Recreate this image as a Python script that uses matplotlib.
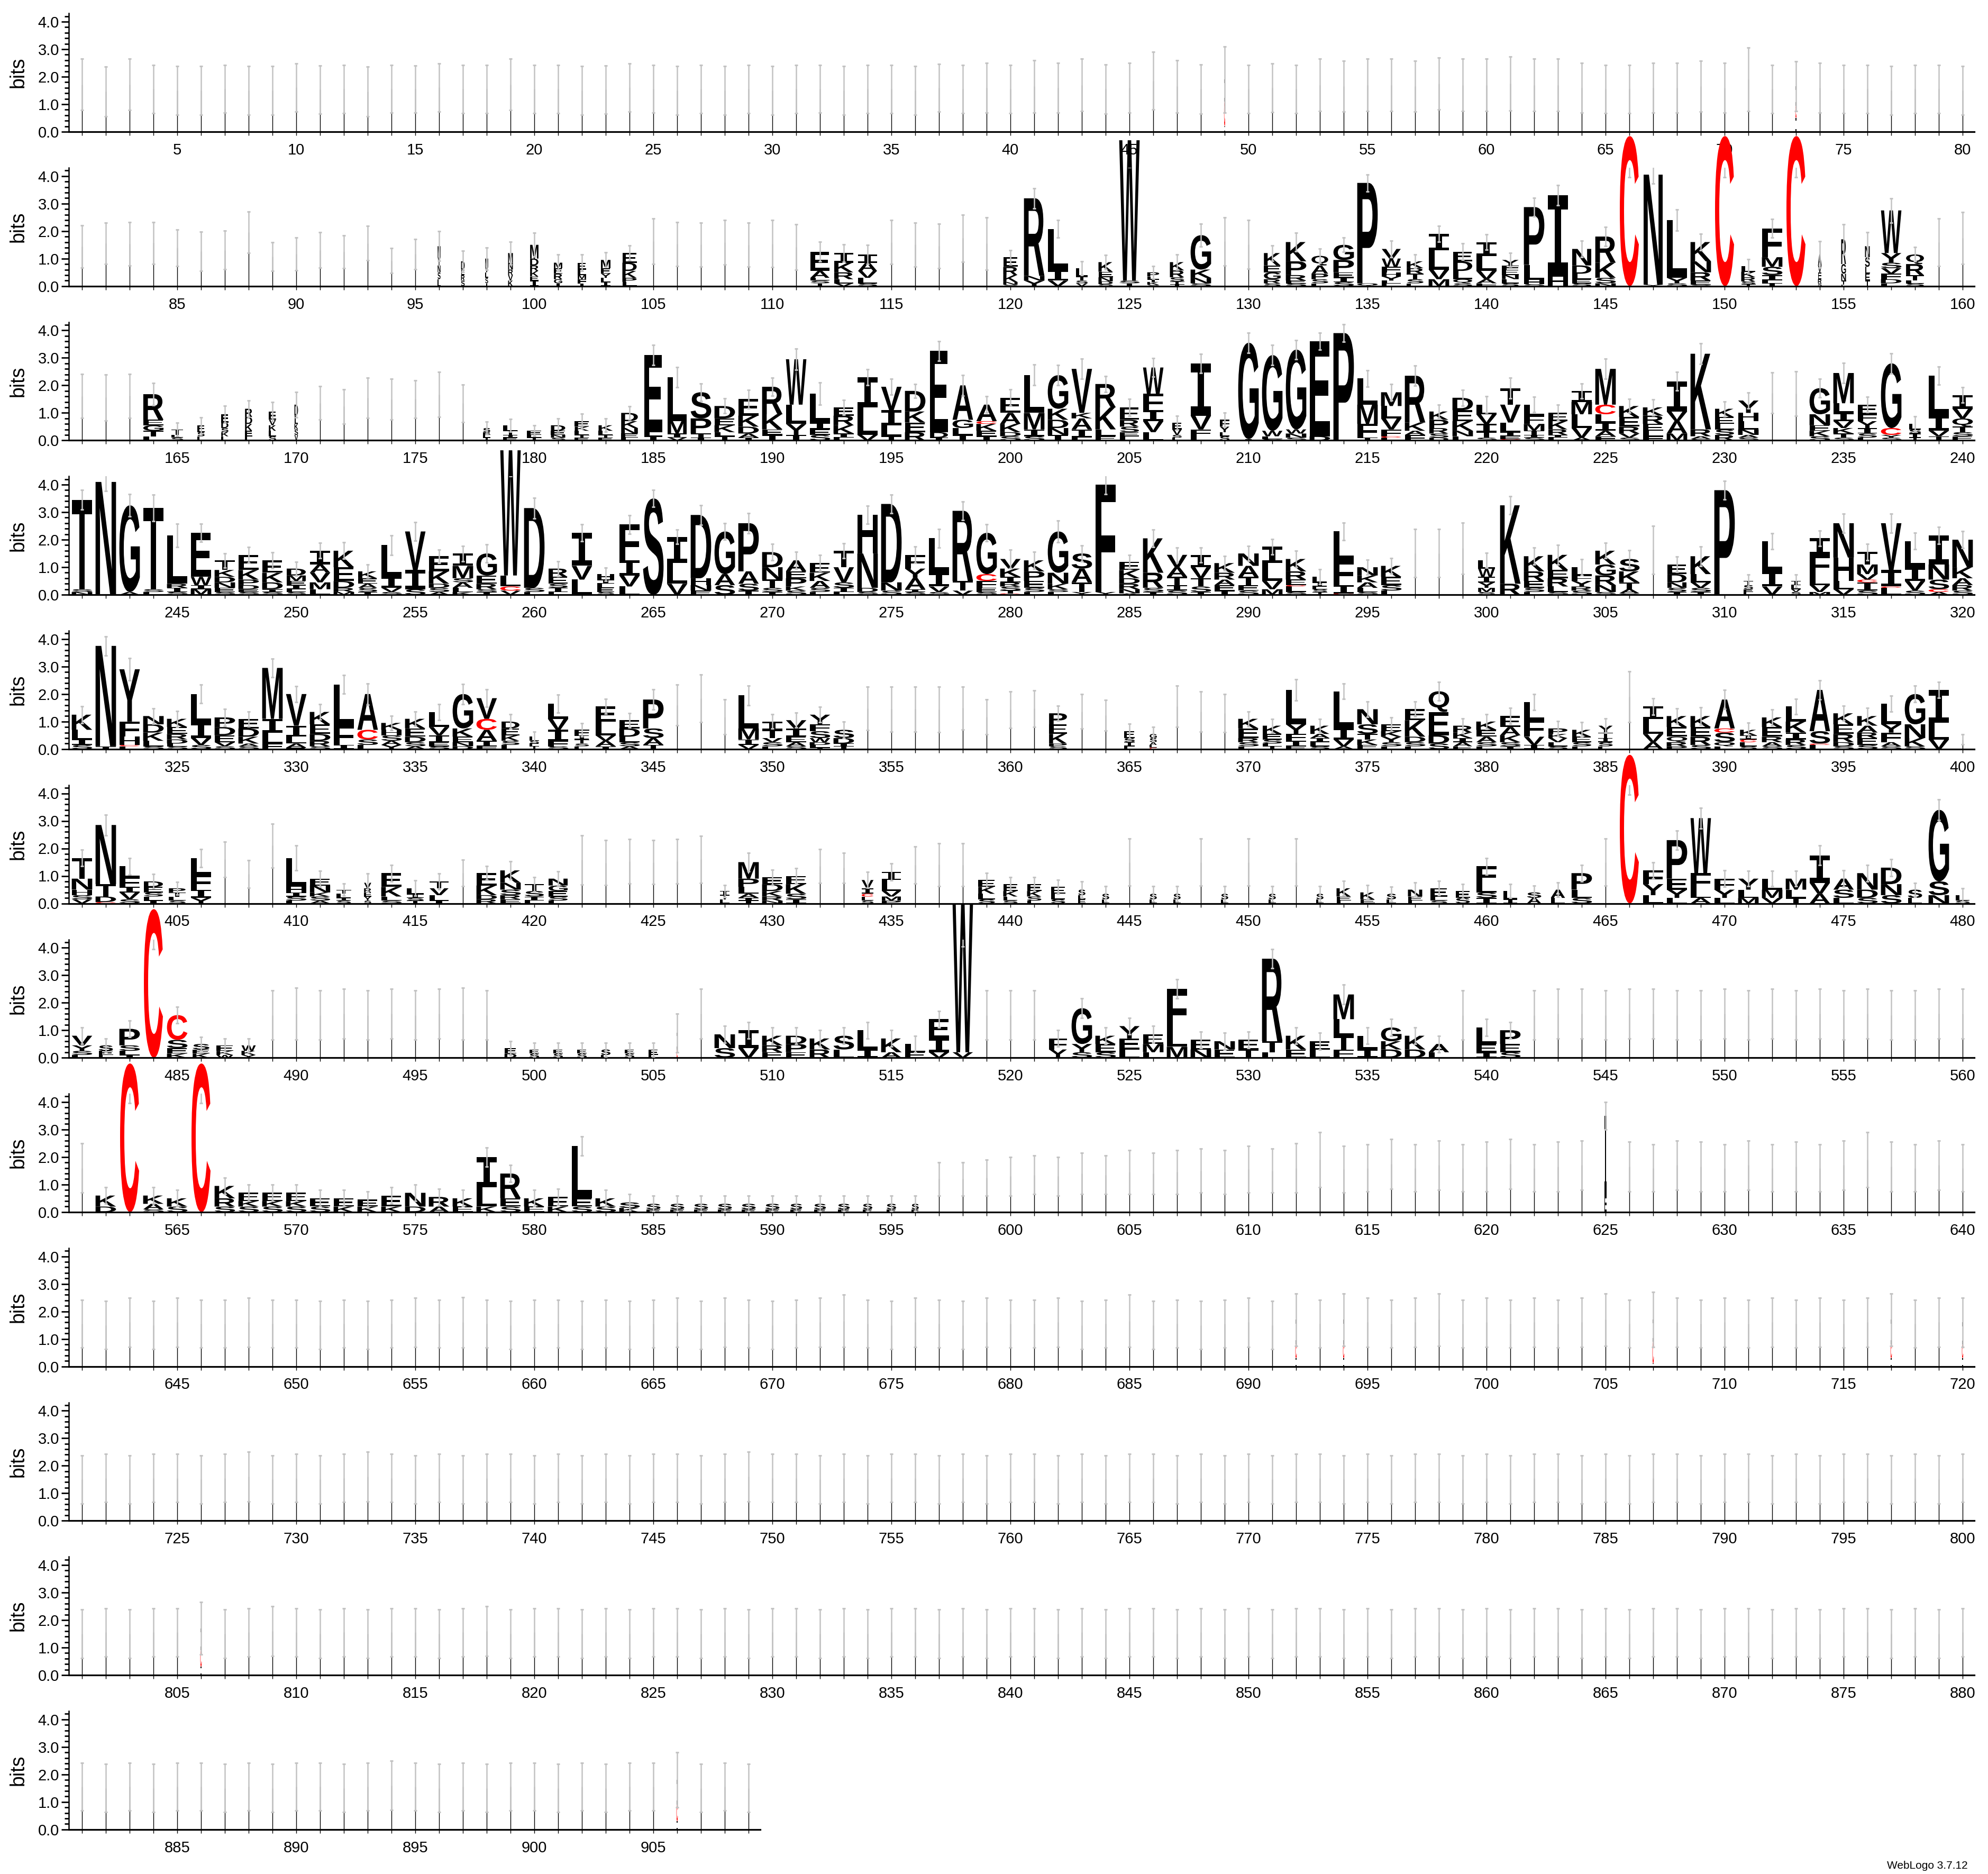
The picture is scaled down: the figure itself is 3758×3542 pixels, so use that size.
import re
import sys
import matplotlib
matplotlib.use("Agg")
import matplotlib.pyplot as plt
from matplotlib.textpath import TextPath
from matplotlib.font_manager import FontProperties
from matplotlib.patches import PathPatch
from matplotlib.transforms import Affine2D

# one token per alignment column:
#   letters top->bottom with heights in bits, "@w" stack width, "/e" error half width,
#   "^m" error bar centre when it differs from the stack top; a bare number is a thin stack
row01 = """
1.72/.93 1.46/.91 1.72/.93 1.55/.87 1.5/.88 1.5/.88 1.56/.87 1.5/.88 1.5/.88 1.61/.87
1.53/.87 1.55/.87 1.46/.91 1.56/.87 1.55/.86 1.61/.87 1.55/.87 1.55/.87 1.72/.93 1.55/.87
1.55/.87 1.5/.88 1.53/.87 1.61/.87 1.56/.86 1.5/.88 1.55/.87 1.5/.88 1.55/.87 1.5/.88
1.55/.87 1.56/.86 1.5/.88 1.55/.87 1.55/.87 1.5/.88 1.6/.87 1.55/.87 1.6/.9 1.55/.87
1.65/.95 1.6/.9 1.7/.95 1.55/.9 1.6/.9 1.85/1.05 1.65/.95 1.55/.9 I.8C.9I.2@.05/1.2 1.55/.87
1.6/.88 1.55/.87 1.7/.95 1.65/.92 1.7/.95 1.7/.95 1.65/.92 1.75/.95 1.7/.95 1.7/.95
1.75/.98 1.7/.95 1.7/.95 1.6/.9 1.55/.87 1.55/.87 1.6/.9 1.6/.9 1.65/.92 1.6/.9
1.9/1.15 1.55/.87 I.7C.45I.5@.05/.9 1.6/.9 1.55/.87 1.55/.87 1.5/.88 1.55/.87 1.55/.87 1.5/.88
""".split()

row02 = """
1.44/.77 1.55/.75 1.53/.79 1.57/.76 1.39/.67 1.26/.71 1.31/.7 1.95/.75 1.07/.52 1.17/.59
1.31/.64 1.25/.6 1.56/.62 .92/.45 1.16/.55 M.4Y.3N.25S.25L.25@.12/.54 D.3E.2R.2S.2@.15/.39
M.3V.2L.2S.2I.1@.12/.4 M.35N.25R.2V.2K.2@.2/.41 M.5D.25R.2K.2E.15I.2@.35/.43
M.2E.2R.2G.15I.1@.35/.29 E.25L.2M.15F.15I.1@.35/.29 M.3E.2Y.15L.15I.15@.4/.27
E.35D.3K.25P.15L.15@.6/.27 1.63/.83 1.53/.8 1.51/.8 1.59/.8 1.5/.8 1.54/.85
1.42/.82 E.7A.25L.1S.1T.1@.8/.36 I.35K.35R.25L.15V.1@.8/.32 I.3A.3V.25L.2S.1@.8/.35
1.6/.8 1.51/.8 1.45/.81 1.74/.86 1.55/.95 E.35R.3K.25N.1S.05@.6/.26
R2.82N.17Y.2/.37 L1.5I.38V.2/.32 L.3T.15S.1V.1@.5/.25 K.35E.2N.15D.1S.07@.6/.26
W5.1S.1T.1/.32^4.64 P.15L.1T.1K.1S.05@.5/.23 K.3R.25S.15T.1I.07@.6/.27 G1.25K.3N.2S.1/.41
1.62/.87 1.51/.88
K.45E.25G.25R.15S.1@.7/.28 K.7P.5R.2E.1S.1/.33 Q.35A.3P.2S.15L.1@.7/.26 G.55P.45E.2I.15S.15/.26
P3.65Q.1/.31 V.35W.3F.2H.15Y.15L.1E.1@.8/.3 K.25R.2T.2S.15E.1@.7/.25 I.6L.7V.35M.25/.29
E.35D.35L.3Q.15S.1@.8/.3 I.5L.55V.3A.15F.1/.28
Y.2F.15E.2N.15L.15S.1@.7/.25 P2.1L.55H.15S.07/.34 I2.95H.35/.36 N.6D.3L.2E.15S.1@.8/.29
R.95K.55S.2N.1/.35 C5.45@.8/.35^4.31 N4.0Y.05@.8/.32 L2.1Y.2S.1/.38 K.7N.4R.3E.15S.05/.3
C5.45@.8/.35^4.31
L.2K.2R.15S.1T.07@.6/.26 F1.05M.35S.3I.2L.1T.1/.34 C5.45@.8/.35^4.31 A.4V.25E.25R.15S.1@.15/.48
R.9G.35N.25T.15L.05@.2/.55 N.4S.35L.25E.25T.2@.2/.5 W1.55Y.35S.2V.2F.2D.15L.1/.44
Q.35R.4T.2L.1S.1@.75/.26 1.59/.87 1.74/.94
""".split()

row03 = """
1.61/.8 1.56/.84 1.62/.8 R.93E.2G.2T.2L.15@.85/.4 T.2L.1S.1@.5/.24 E.25S.15L.15@.3/.29
E.3D.2S.15K.15L.15@.3/.3 R.3D.25K.25E.2L.15@.3/.3 E.3V.2K.2L.2S.15@.3/.35 D.4L.3K.2S.2V.2@.15/.46
1.36/.6 1.23/.63 1.54/.73 1.49/.74 1.5/.69 1.67/.81 1.35/.68 S.15E.1L.1T.1@.3/.23
L.2T.15I.1E.1@.6/.23 E.15L.1T.1@.6/.19
D.2E.15N.1S.1@.6/.24 E.2K.15L.15T.1E.1@.6/.26 K.2L.15T.1E.1@.6/.24 D.3K.25N.2E.15L.1@.7/.24
E2.8L.15I.15@.75/.37 L1.6M.45I.15V.1@.8/.36 S.95P.55T.15I.1/.31 D.45E.25K.25L.15T.15/.27
E.6K.4D.25A.15I.1/.34 R1.0K.55E.2I.2/.32
W1.65L.7Y.4I.2/.39 L1.05I.25E.2S.2/.4 E.3R.35K.3I.15L.1/.26 I1.1L1.0V.2/.29 V.85I.55L.4T.15/.28
D.75K.4E.35R.3/.25 E2.95D.2I.1@.75/.35 A1.25G.3L.25I.2/.37 A.6C.1K.25E.2I.15/.3 E.55A.4K.3D.15S.15/.3
L1.38M.6I.25S.15/.37 G1.22K.4D.3N.25I.2/.36 V1.6K.2A.4I.3L.1/.37 R.85K.8L.25E.15/.29
E.45R.25S.2E.15L.15@.8/.31 W.95F.6I.4V.4L.3/.34 E.25V.2S.1L.1@.4/.25 I1.9V.5F.25L.15/.35
F.25Y.2L.15S.15@.4/.26 G3.5I.05/.36
G2.75W.2L.1S.05/.37 G2.9W.15N.15S.1/.35 E3.45D.15/.31 P3.9/.31 L.95M.7F.5T.1/.3
M.5L.45V.4F.25C.05L.1/.3 R1.7K.3A.15F.2/.36 K.3P.3R.2S.15D.1@.8/.24 D.45E.4K.35N.2L.15/.29
L.35V.35I.3T.2S.1/.3
T.6V.65L.35I.15E.1C.05/.37 L.4F.3M.25T.15I.1S.1/.28 E.3K.3R.2I.1L.1@.8/.29 I.4M.45L.5V.35A.1/.27
M1.3C.35L.3I.3A.2F.15/.37 K.4E.35R.25V.15S.1/.25 K.3R.3E.25L.2F.15/.29 I1.1V.35A.45M.25/.33
K2.75R.25A.1S.05/.38 K.3E.25L.2S.2R.2@.8/.27
Y.45H.3L.3N.2A.1S.1/.28 1.72/.74 1.7/.81 G.95N.4E.2K.2S.15/.34 M1.1L.35I.3V.25K.2T.15S.1/.37
E.35F.25Y.25I.2S.15L.1@.8/.28 G2.35C.25Y.1S.1/.37 L.2S.15I.15T.1@.5/.28 L1.45I.55V.2T.15/.33
I.5V.35Q.3T.2S.15E.15/.28
""".split()

row04 = """
T3.25S.1N.1/.36 N4.1/.33 G3.15A.1/.4 T2.95S.1L.1/.48 L1.75R.15I.15S.1/.42 E1.6W.3I.15M.2/.33
T.35K.25D.2N.2E.15S.1/.26 E.55K.35P.2D.15E.1S.1/.29 E.45K.35D.25I.1S.1/.29 D.25M.2E.15I.15L.1S.1@.8/.25
I.5A.3V.35M.25L.2/.28 K.6E.5D.25R.15M.1/.3 K.25E.2A.15S.15I.1@.8/.24 L1.15I.4V.15S.1/.35
V1.4I.7S.2/.33 E.55K.45D.15S.15A.1/.24 I.45M.45S.15A.2L.15K.1/.28 G.8E.3R.2S.1I.1/.33
W4.55L.4C.15V.15/.3^4.6 D2.9S.15L.1/.38
R.3E.25S.15I.15L.1@.8/.27 I1.2V.5L.55/.3 H.2I.15L.15E.15S.1@.7/.24 F1.3I.55V.4L.3/.34 S3.5/.31
I.95L.75V.4/.26 D2.3H.25N.2E.15/.36 G1.55A.4S.35/.29 P1.75A.45S.25I.15/.37 D.55N.45T.3S.15I.1/.29
A.4E.25P.3K.15S.15/.3 E.35K.3A.25S.15L.1/.29 T.6V.55S.2I.15L.1/.27 H1.4N1.25D.15S.1/.33
D2.85N.3S.15/.33 F.5Y.35A.4I.1S.1/.3 L1.25I.5V.2S.1/.34 R2.55T.35V.15/.33 G1.5C.25F.25E.15S.1/.3
V.35K.3I.2R.15S.15T.1C.05/.33
K.4P.35E.25S.15L.1/.3 G1.5N.4K.2S.1L.1/.39 S.55A.5T.35Y.1/.29 F3.9Y.1/.35 E.3K.3D.2R.2N.15A.05/.24
K1.25R.55S.15I.1/.32 V.45A.35T.3I.2S.15/.27 I.45V.4T.3S.2I.1/.27 K.35R.25A.2E.2I.15/.26
N.45A.4T.3E.2S.15/.27
I.6L.65V.3M.2/.28 K.45R.3E.2C.05L.2S.1/.3 L.2I.15E.1S.1T.1@.6/.27 L1.05F.9I.3C.05/.31
N.3K.25A.2L.15S.1/.27 K.4E.3S.2L.15/.27 1.51/.88 1.51/.88 1.69/.93 L.3W.3I.2Y.2M.15S.1@.7/.27
K2.85R.4/.33 K.55R.35E.25S.15L.1/.31 K.55E.3R.3L.2S.1/.36 L.3F.2Y.2R.15S.15/.29 K.5G.4R.35N.25S.1/.28
S.45K.4T.25A.15S.05/.31 1.63/.87 E.35D.3N.2S.15I.1@.8/.28 K.65L.3V.2S.15I.1/.36 P3.8/.34
T.15S.15E.1L.1@.4/.24 L1.1I.55V.3/.29 I.15L.15V.1S.1@.4/.23 I.6F.75L.35V.25M.1/.28
N1.25H.85L.3V.2/.34 T.45M.35V.2C.1I.3S.15/.3 V1.7I.6C.05L.25/.35 L.95I.5V.35S.15/.3
I1.05N.55S.35C.1A.1/.31 N1.0K.4A.25R.2S.15/.31
""".split()

row05 = """
K.55L.35I.2S.15/.31 N3.65I.1/.35 Y1.9F.55H.3C.05L.1/.4 N.3D.3K.3L.2S.1/.28 K.3E.25R.2D.15L.1S.1/.29
L1.05I.55V.25S.15/.34 P.35D.3E.25V.15S.1/.3 E.35D.3K.25A.1S.1/.27 M1.85I.5L.4F.2/.33
V1.15I.4L.25A.15E.05/.29
K.45E.35D.25R.2S.1/.28 L1.5F.7I.15/.34 A1.3C.35S.2L.15/.38 K.25H.2S.2A.15Y.15/.26
K.35E.3D.2S.15A.1/.26 L.55V.3I.25E.15S.1/.29 G1.25K.3E.2N.15D.1/.37 V.75C.4A.4I.2F.1/.32
D.25E.25K.2S.15L.15@.75/.26 L.15S.1E.1T.1@.4/.18
L.55V.4I.4F.2S.1/.32 F.2I.15T.15S.1L.1@.6/.24 E.55L.5V.2A.2I.1/.27 E.3D.3L.2S.15A.1/.26
P1.05S.35A.25T.15/.37 1.6/.74 1.84/.87 1.17/.64 L1.2M.4I.2V.15/.35 I.3T.3V.15S.15L.1/.26
V.3I.3E.2A.15S.1/.27 Y.35F.25S.25W.15D.1L.1T.05/.28 S.3D.2I.1T.1/.3 1.47/.79 1.45/.81
1.45/.81 1.44/.82 1.49/.78 1.17/.64 1.43/.67
1.47/.66 P.4E.35K.35P.1S.1@.75/.27 1.37/.63 1.22/.56 E.25S.15I.15L.1@.45/.26
G.15S.15A.1L.1C.05@.3/.26 1.55/.75 1.36/.73 1.3/.69 K.35E.35R.15S.15L.1/.27
K.3E.2S.15L.1T.1@.8/.25 L1.25Y.35F.25I.2E.1/.39 K.3A.15I.15L.15S.1@.8/.24 L1.35I.4V.25A.1/.28
N.55S.35T.2K.2E.15/.28 E.25K.2Y.2S.15L.1/.25 E.4K.6D.2S.15L.1/.27 Q.75E.85D.3S.2/.33
R.25K.2I.15A.15E.1@.8/.27 K.3E.25A.2S.15L.1/.27
E.4A.3K.25S.15I.1/.29 L.65F.6V.3I.15/.29 P.2K.15V.15L.15S.1@.8/.27 K.25E.2S.15L.1@.8/.27
Y.25T.2I.15S.15L.1@.6/.26 1.9/.93 I.45L.55V.3A.25/.3 K.4E.35Q.2R.15P.1/.28 K.4E.35R.3S.15/.31
A1.05C.15S.35Q.15L.1/.35
K.2I.15C.1L.15S.1@.7/.26 K.35E.35R.2A.15S.1/.28 L.55K.4I.25R.2S.15/.28 A1.5S.45C.05L.15/.34
K.4E.35R.3D.15S.1/.27 K.35A.25R.2E.25S.15/.29 L.75Y.3F.35A.15S.1/.29 G1.1N.5K.3S.1/.3
I1.2L.6V.35/.29 .35/.18
""".split()

row06 = """
T.75N.4H.2S.15V.15/.3 N2.15T.45D.2C.05/.37 L.4F.35I.2V.25S.15/.3 D.2E.2S.15L.15I.1@.8/.26
P.15T.15L.15S.1@.7/.23 L.6F.55I.3Y.2/.33 1.6/.64 1.06/.5 2.1/.8 L1.05H.2I.15S.15L.1/.45
E.25N.25K.15S.15A.1@.85/.29 T.15L.15I.1S.1@.6/.23 V.2R.15E.15Y.15S.1@.3/.33 E.5K.35L.15S.1/.3
L.2I.15S.1T.1@.7/.28 T.25V.25L.2I.1@.8/.29 1.1/.48 E.45K.35D.15R.15/.25 K.45N.25S.2R.15E.15/.33
T.25S.2I.15L.1@.8/.26
N.25G.2E.2S.15L.1@.8/.27 1.58/.9 1.48/.81 1.53/.81 1.5/.8 1.53/.81 1.6/.86 I.15T.15L.15@.4/.22
M.6P.3L.25A.15I.1T.1/.34 E.25D.25K.2R.15N.1/.28
E.3K.35S.2I.15/.28 1.36/.61 1.29/.55 V.3I.2C.1L.15S.1@.5/.29 I.3L.4V.2M.15P.1@.8/.31 1.39/.67
1.41/.78 1.4/.78 E.25K.25L.2S.15@.7/.26 E.25K.2L.15S.1@.6/.25
E.25K.2S.15L.1@.6/.25 E.25L.2S.15@.6/.25 S.2L.15E.15@.3/.3 S.2L.15@.3/.28 1.5/.85 S.2L.15@.3/.28
S.2L.15@.3/.28 1.5/.85 S.2L.15@.3/.28 1.5/.85
S.2L.15@.3/.28 1.5/.85 S.2L.15@.3/.28 K.3E.15L.1@.6/.26 K.25E.15@.6/.26 S.2L.15@.4/.26
N.25E.15L.1@.6/.26 E.3L.15S.1@.7/.26 E.25S.2@.6/.26 F.65L.3S.2I.2/.3
L.3I.15@.6/.25 S.2A.2@.6/.25 A.3L.2@.6/.26 P.6L.3S.2/.3 1.5/.85 C5.4@.8/.35^4.3
F.5Y.4L.3/.3 P1.4E.4Y.3L.2/.35 W2.0F.6L.3A.2/.38 F.4Y.3L.2/.3
Y.4L.3M.2/.28 L.4M.3V.2/.28 M.4L.3T.2/.28 I1.0V.4A.35/.35 A.4S.3L.2/.3 N.6D.3S.2/.3
D.6N.4S.3/.3 S.3L.2@.6/.25 G2.6S.5N.3/.38 L.2S.1@.6/.25
""".split()

row07 = """
V.35Y.2S.15L.1/.3 S.2E.15L.1@.6/.25 P.6S.2L.15I.1/.3 C5.4@.8/.35^4.3 C.9S.3E.2K.15/.3
S.2E.15K.15@.7/.25 E.2K.15W.1@.7/.25 W.2K.15Y.1@.6/.25 1.55/.9 1.6/.95
1.55/.9 1.6/.9 1.55/.9 1.6/.9 1.55/.9 1.6/.9 1.6/.95 1.55/.9 E.2D.15@.5/.25 E.15S.15@.4/.25
E.15S.15@.4/.25 E.15S.15@.4/.25 S.2L.1@.4/.25 E.15S.15@.4/.25 E.2L.1@.4/.25 I.6C.3@.05/.7
1.6/.9 N.5S.35/.3 I.65V.35/.3 K.35R.25E.2/.3
D.3P.3E.2/.3 K.4R.3/.3 S.5L.3/.3 L.7I.3/.3 K.5A.2/.3 L.3E.2/.3 E.7I.5V.2/.3 W5.4V.2/.35^4.4
1.55/.9 1.55/.9
1.55/.9 F.4Y.3@.75/.3 G1.3Y.3S.2/.35 K.3E.3S.2/.3 Y.45E.4L.3/.3 E.35M.3L.2/.3 F1.5L.6M.4/.35
E.35N.3/.3 N.3E.3/.3 E.35T.3/.3
R3.0T.4L.2/.35 K.5E.3/.3 E.3L.3/.3 M.9L.6T.5F.3/.35 L.5I.3/.3 G.5K.3D.3/.3 K.5D.3/.3 A.3L.2/.3
1.55/.9 L.6E.3I.2/.3
P.5E.3S.2/.3 1.55/.9 1.6/.9 1.6/.9 1.55/.9 1.6/.9 1.6/.9 1.55/.9 1.55/.9 1.6/.9
1.55/.9 1.6/.9 1.55/.9 1.6/.9 1.55/.9 1.6/.9 1.55/.9 1.55/.9 1.6/.9 1.6/.9
""".split()

row08 = """
1.6/.9 K.4D.2/.3 C5.4@.8/.35^4.3 K.3A.2S.1/.3 K.3S.2/.3 C5.4@.8/.35^4.3 K.45R.3S.2/.3
E.3K.2S.2/.3 E.3K.2S.2/.3 E.3K.2S.2/.3
E.3S.2/.3 E.3K.2/.3 E.25K.2/.3 E.4K.2/.3 N.5D.2/.3 R.35A.2/.3 K.3E.2/.3 I1.1L.7K.2/.35
R.9E.3S.2/.3 K.3E.2/.3
E.35K.2/.3 L1.9E.3S.2/.35 K.3S.2/.3 S.2K.15/.3 S.2E.1@.6/.3 S.2E.1@.6/.3 S.2E.1@.6/.3
S.2E.1@.6/.3 S.2E.1@.6/.3 S.2E.1@.6/.3
S.2E.1@.5/.3 S.2E.1@.5/.3 S.2E.1@.5/.3 S.2E.1@.4/.3 S.2E.1@.4/.3 S.2E.1@.3/.3 1.2/.6
1.2/.6 1.25/.65 1.3/.7
1.35/.7 1.3/.7 1.4/.75 1.35/.7 1.45/.8 1.4/.75 1.45/.8 1.5/.8 1.45/.8 1.55/.85
1.5/.8 1.6/.9 1.9/1.0 1.55/.85 1.6/.85 1.75/.9 1.6/.85 1.7/.9 1.6/.85 1.65/.9
1.75/.9 1.6/.85 1.65/.9 1.7/.9 I2.9E.6@.1/.5 1.65/.9 1.6/.85 1.7/.9 1.65/.9 1.6/.85
1.7/.9 1.6/.85 1.65/.9 1.6/.85 1.7/.9 1.9/1.0 1.65/.9 1.6/.85 1.7/.9 1.6/.85
""".split()

row09 = """
1.55/.87 1.5/.88 1.6/.9 1.5/.88 1.6/.9 1.55/.87 1.55/.87 1.6/.9 1.55/.87 1.55/.87
1.5/.88 1.55/.87 1.5/.88 1.55/.87 1.6/.9 1.55/.87 1.6/.92 1.55/.87 1.5/.88 1.55/.87
1.55/.87 1.5/.88 1.55/.87 1.5/.88 1.55/.87 1.6/.9 1.5/.88 1.6/.9 1.55/.87 1.5/.88
1.55/.87 1.6/.9 1.65/.95 1.55/.87 1.5/.88 1.6/.9 1.55/.87 1.5/.88 1.6/.9 1.55/.87
1.55/.87 1.6/.9 1.5/.88 1.55/.87 1.65/.95 1.5/.88 1.55/.87 1.5/.88 1.55/.87 1.6/.9
1.5/.88 I.9C.5I.3@.06/.95 1.55/.87 I.9C.5I.3@.06/.95 1.6/.9 1.55/.87 1.6/.9 1.7/.95 1.55/.87 1.6/.9
1.55/.87 1.6/.9 1.55/.87 1.6/.9 1.7/.95 1.55/.87 I.8C.8I.1@.06/1.0 1.6/.9 1.55/.87 1.6/.9
1.55/.87 1.6/.9 1.55/.87 1.6/.9 1.55/.87 1.6/.9 I.9C.5I.3@.06/.95 1.55/.87 1.6/.9 I.8C.5I.3@.06/.9
""".split()

row10 = """
1.5/.88 1.55/.87 1.5/.88 1.55/.87 1.55/.87 1.5/.88 1.55/.87 1.6/.9 1.5/.88 1.55/.87
1.5/.88 1.55/.87 1.6/.9 1.55/.87 1.5/.88 1.55/.87 1.5/.88 1.55/.87 1.55/.87 1.5/.88
1.55/.87 1.5/.88 1.55/.87 1.5/.88 1.55/.87 1.55/.87 1.5/.88 1.55/.87 1.6/.9 1.55/.87
1.55/.87 1.5/.88 1.55/.87 1.5/.88 1.55/.87 1.55/.87 1.5/.88 1.55/.87 1.5/.88 1.55/.87
1.55/.87 1.5/.88 1.55/.87 1.5/.88 1.55/.87 1.55/.87 1.5/.88 1.55/.87 1.5/.88 1.55/.87
1.5/.88 1.55/.87 1.55/.87 1.5/.88 1.55/.87 1.5/.88 1.55/.87 1.55/.87 1.5/.88 1.55/.87
1.5/.88 1.55/.87 1.55/.87 1.5/.88 1.55/.87 1.5/.88 1.55/.87 1.55/.87 1.5/.88 1.55/.87
1.55/.87 1.5/.88 1.55/.87 1.5/.88 1.55/.87 1.55/.87 1.5/.88 1.55/.87 1.5/.88 1.55/.87
""".split()

row11 = """
1.5/.88 1.55/.87 1.5/.88 1.55/.87 1.55/.87 I.8C.6I.3@.06/.95 1.5/.88 1.55/.87 1.6/.9 1.55/.87
1.5/.88 1.55/.87 1.5/.88 1.55/.87 1.55/.87 1.5/.88 1.55/.87 1.6/.9 1.5/.88 1.55/.87
1.55/.87 1.5/.88 1.55/.87 1.5/.88 1.55/.87 1.55/.87 1.5/.88 1.55/.87 1.5/.88 1.55/.87
1.55/.87 1.5/.88 1.55/.87 1.5/.88 1.55/.87 1.55/.87 1.5/.88 1.55/.87 1.5/.88 1.55/.87
1.55/.87 1.5/.88 1.55/.87 1.5/.88 1.55/.87 1.55/.87 1.5/.88 1.55/.87 1.5/.88 1.55/.87
1.5/.88 1.55/.87 1.55/.87 1.5/.88 1.55/.87 1.5/.88 1.55/.87 1.55/.87 1.5/.88 1.55/.87
1.5/.88 1.55/.87 1.55/.87 1.5/.88 1.55/.87 1.5/.88 1.55/.87 1.55/.87 1.5/.88 1.55/.87
1.55/.87 1.5/.88 1.55/.87 1.5/.88 1.55/.87 1.55/.87 1.5/.88 1.55/.87 1.5/.88 1.55/.87
""".split()

row12 = """
1.55/.87 1.5/.88 1.55/.87 1.5/.88 1.55/.87 1.55/.87 1.5/.88 1.55/.87 1.5/.88 1.55/.87
1.55/.87 1.5/.88 1.55/.87 1.6/.9 1.55/.87 1.5/.88 1.55/.87 1.5/.88 1.55/.87 1.55/.87
1.5/.88 1.55/.87 1.5/.88 1.55/.87 1.55/.87 I.9C.6I.3@.06/1.0 1.5/.88 1.55/.87 1.5/.88
""".split()

rows = [row01, row02, row03, row04, row05, row06, row07, row08, row09, row10, row11, row12]
row_start = [1, 81, 161, 241, 321, 401, 481, 561, 641, 721, 801, 881]
row_len = [80] * 11 + [29]

# page geometry in pixels (figure drawn at dpi 100)
FIG_W, FIG_H = 3758, 3542
X0 = 155.0        # x of first column in a row
PITCH = 45.0      # column spacing
AX_L = 130.0      # y axis position
BASE0 = 249.0     # baseline of first row
ROW_STEP = 291.7
BIT = 52.0        # pixels per bit
YTOP = 4.3

GREY = "#c3c3c3"
letter_font = FontProperties(family=["Liberation Sans", "DejaVu Sans"], weight="bold")
serif_i_font = FontProperties(family=["DejaVu Sans Mono"], weight="bold")
_glyphs = {}


def glyph(ch):
    if ch not in _glyphs:
        prop = serif_i_font if ch == "I" else letter_font
        p = TextPath((0, 0), ch, size=1, prop=prop)
        _glyphs[ch] = (p, p.get_extents())
    return _glyphs[ch]


def parse(tok):
    body, err = tok.split("/")
    mid = None
    if "^" in err:
        err, mid = err.split("^")
        mid = float(mid)
    width = 0.86
    if "@" in body:
        body, w = body.split("@")
        width = float(w)
    letters = [(c, float(h)) for c, h in re.findall(r"([A-Z])([\d.]+)", body)]
    thin = None if letters else float(body)
    return letters, thin, width, float(err), mid


plt.rcParams["font.family"] = ["Liberation Sans", "DejaVu Sans"]
fig = plt.figure(figsize=(FIG_W / 100, FIG_H / 100), dpi=100)

for k, (first, n, toks) in enumerate(zip(row_start, row_len, rows)):
    if len(toks) != n:
        print(f"row {k + 1}: {len(toks)} tokens, expected {n}", file=sys.stderr)
    base = BASE0 + k * ROW_STEP
    right = X0 + (n - 1) * PITCH + 22
    ax = fig.add_axes([AX_L / FIG_W, 1 - base / FIG_H,
                       (right - AX_L) / FIG_W, YTOP * BIT / FIG_H])
    ax.set_xlim(first + (AX_L - X0) / PITCH, first + (right - X0) / PITCH)
    ax.set_ylim(0, YTOP)
    ax.patch.set_alpha(0)

    for i, tok in enumerate(toks[:n]):
        pos = first + i
        letters, thin, width, err, mid = parse(tok)
        if letters:
            y = 0.0
            for ch, h in reversed(letters):
                path, bb = glyph(ch)
                tr = (Affine2D().translate(-bb.x0, -bb.y0)
                      .scale(width / bb.width, h / bb.height)
                      .translate(pos - width / 2, y))
                ax.add_patch(PathPatch(tr.transform_path(path), lw=0,
                                       facecolor="red" if ch == "C" else "black",
                                       clip_on=False, zorder=2))
                y += h
            top = y
        else:
            ax.vlines(pos, 0, thin, color="black", lw=1.0, zorder=2)
            top = thin
        if mid is None:
            mid = top
        ax.vlines(pos, mid - err, mid + err, color=GREY, lw=1.8, zorder=3)
        ax.hlines([mid - err, mid + err], pos - 0.075, pos + 0.075,
                  color=GREY, lw=2.2, zorder=3)

    for s in ("top", "right"):
        ax.spines[s].set_visible(False)
    ax.spines["bottom"].set_linewidth(2.3)
    ax.spines["left"].set_linewidth(1.8)

    ax.set_xticks(range(first, first + n))
    ax.set_xticklabels([str(p) if p % 5 == 0 else "" for p in range(first, first + n)])
    ax.tick_params(axis="x", length=5, width=1.0, pad=10, labelsize=21)
    ax.set_yticks([0, 1, 2, 3, 4])
    ax.set_yticklabels(["0.0", "1.0", "2.0", "3.0", "4.0"])
    ax.set_yticks([v / 5 for v in range(1, 22) if v % 5], minor=True)
    ax.tick_params(axis="y", which="major", length=10, width=2.0, pad=3, labelsize=21)
    ax.tick_params(axis="y", which="minor", length=6, width=2.0)

    fig.text(35 / FIG_W, 1 - (base - 2.15 * BIT) / FIG_H, "bits", rotation=90,
             ha="center", va="center", fontsize=27)

fig.text(3720 / FIG_W, 1 - 3527 / FIG_H, "WebLogo 3.7.12", ha="right", va="center", fontsize=15)

fig.savefig("out.png", dpi=100)
